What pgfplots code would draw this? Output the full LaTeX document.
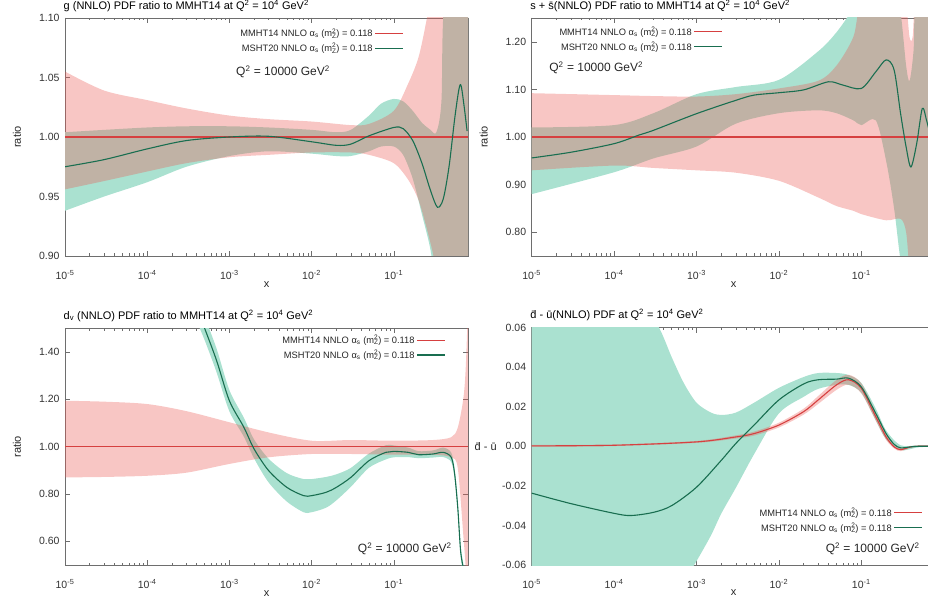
\documentclass[border=0pt]{standalone}
\usepackage{pgfplots}
\pgfplotsset{compat=1.18}
\usepackage{pgfplotstable}
\usepgfplotslibrary{fillbetween}
\usepackage{fontspec}
\setmainfont{Liberation Sans}

\definecolor{bandteal}{RGB}{170,225,208}
\definecolor{bandred}{RGB}{235,92,86}
\definecolor{linered}{RGB}{214,64,64}
\definecolor{lineteal}{RGB}{25,110,80}
\definecolor{axgray}{RGB}{110,110,110}

\newcommand{\lgd}[1]{#1 NNLO α\textsubscript{s} (m\rlap{\textsubscript{Z}}\textsuperscript{2}) = 0.118}
\newcommand{\qq}{Q\textsuperscript{2} = 10000 GeV\textsuperscript{2}}
\newcommand{\qqq}{Q\textsuperscript{2} = 10\textsuperscript{4} GeV\textsuperscript{2}}
\newcommand{\xtl}{10\textsuperscript{-5},10\textsuperscript{-4},10\textsuperscript{-3},10\textsuperscript{-2},10\textsuperscript{-1}}

\pgfplotsset{
  tick align=inside,
  major tick length=5pt, minor tick length=2.5pt,
  axis line style={draw=axgray, line width=0.6pt},
  every tick/.style={draw=axgray, line width=0.5pt},
  tick label style={font=\fontsize{10.5}{12}\selectfont, text=black!80},
  xticklabel style={yshift=-11pt},
  yticklabel style={xshift=-2pt},
  label style={font=\fontsize{11}{13}\selectfont, text=black!85},
  title style={at={(0,1)}, anchor=south west, inner sep=0.5pt, xshift=-2pt, font=\fontsize{11}{13}\selectfont},
  legend style={draw=none, fill=none, font=\fontsize{9.3}{10}\selectfont, inner sep=0pt, row sep=1pt, text=black!85},
  legend cell align=right, legend plot pos=right,
  legend image code/.code={\draw[#1] (0pt,0pt) -- (28pt,0pt);},
  tband/.style={draw=none, fill=bandteal, forget plot},
  rband/.style={draw=none, fill=bandred, fill opacity=0.35, forget plot},
  rline/.style={linered, line width=1.1pt, smooth, forget plot},
  tline/.style={lineteal, line width=1.1pt, smooth, forget plot},
  bedge/.style={draw=none, smooth, forget plot},
}

% ---------- panel 1: gluon ----------
\pgfplotstableread{
x lo hi
1e-5 0.956 1.055
3e-5 0.963 1.039
1e-4 0.971 1.031
3e-4 0.978 1.024
1e-3 0.983 1.018
3e-3 0.985 1.015
1e-2 0.987 1.013
3e-2 0.987 1.010
5e-2 0.985 1.011
0.1 0.978 1.022
0.15 0.964 1.045
0.2 0.947 1.067
0.25 0.924 1.098
0.3 0.902 1.13
0.35 0.88 1.2
0.8 0.85 1.2
}\gR
\pgfplotstableread{
x lo hi
1e-5 0.938 1.004
3e-5 0.950 1.006
1e-4 0.962 1.008
3e-4 0.975 1.009
1e-3 0.984 1.009
3e-3 0.988 1.008
1e-2 0.986 1.006
2e-2 0.984 1.004
3e-2 0.984 1.006
5e-2 0.988 1.018
0.07 0.992 1.028
0.1 0.992 1.032
0.13 0.985 1.030
0.17 0.965 1.022
0.22 0.935 1.012
0.28 0.905 1.006
0.33 0.87 1.004
0.38 0.85 1.03
0.42 0.85 1.12
0.8 0.85 1.2
}\gT
\pgfplotstableread{
x c
1e-5 0.975
3e-5 0.981
1e-4 0.990
3e-4 0.997
1e-3 1.000
3e-3 1.0006
1e-2 0.996
2e-2 0.993
3e-2 0.994
5e-2 1.001
0.1 1.008
0.13 1.007
0.17 0.997
0.22 0.978
0.28 0.955
0.34 0.941
0.40 0.948
0.47 0.975
0.55 1.015
0.62 1.040
0.66 1.043
0.72 1.025
0.78 1.005
}\gG
\pgfplotstableread{
x c
1e-5 1.0
1e-3 1.0
0.8 1.0
}\gL

% ---------- panel 2: s + sbar ----------
\pgfplotstableread{
x lo hi
1e-5 0.930 1.092
1e-4 0.940 1.088
3e-4 0.935 1.086
1e-3 0.930 1.085
3e-3 0.925 1.090
1e-2 0.908 1.102
3e-2 0.873 1.118
5e-2 0.855 1.15
8e-2 0.845 1.21
0.1 0.838 1.28
0.2 0.825 1.30
0.3 0.828 1.30
0.35 0.80 1.28
0.385 0.72 1.21
0.42 0.70 1.21
0.47 0.70 1.30
0.8 0.70 1.30
}\sR
\pgfplotstableread{
x lo hi
1e-5 0.88 1.02
1e-4 0.926 1.025
3e-4 0.955 1.05
1e-3 0.98 1.09
3e-3 1.028 1.105
1e-2 1.05 1.12
3e-2 1.056 1.18
5e-2 1.05 1.22
8e-2 1.035 1.27
0.1 1.025 1.30
0.15 1.035 1.30
0.2 0.95 1.30
0.25 0.85 1.30
0.3 0.74 1.26
0.35 0.70 1.15
0.385 0.70 1.118
0.43 0.70 1.18
0.47 0.70 1.30
0.8 0.70 1.30
}\sT
\pgfplotstableread{
x c
1e-5 0.956
3e-5 0.968
1e-4 0.986
2e-4 1.004
3e-4 1.014
1e-3 1.049
3e-3 1.077
5e-3 1.088
1e-2 1.093
2e-2 1.099
4e-2 1.116
6e-2 1.109
0.1 1.102
0.15 1.137
0.2 1.162
0.25 1.141
0.3 1.049
0.35 0.979
0.4 0.937
0.47 0.986
0.55 1.06
0.62 1.035
0.7 1.00
0.8 0.98
}\sG

% ---------- panel 3: d valence ----------
\pgfplotstableread{
x lo hi
1e-5 0.870 1.194
3e-5 0.872 1.190
1e-4 0.877 1.180
3e-4 0.890 1.150
1e-3 0.927 1.103
3e-3 0.955 1.060
1e-2 0.969 1.025
3e-2 0.969 1.028
0.1 0.966 1.025
0.3 0.966 1.028
0.5 0.955 1.040
0.6 0.910 1.080
0.7 0.630 1.200
0.75 0.490 1.330
0.8 0.300 1.600
}\dR
\pgfplotstableread{
x lo hi
4e-4 1.53 1.65
5e-4 1.45 1.55
7e-4 1.313 1.413
1e-3 1.149 1.239
1.5e-3 1.042 1.122
2e-3 0.950 1.030
3e-3 0.849 0.949
5e-3 0.768 0.888
8e-3 0.723 0.863
1e-2 0.723 0.863
1.5e-2 0.742 0.872
2e-2 0.773 0.883
3e-2 0.830 0.910
5e-2 0.911 0.971
8e-2 0.946 1.006
0.1 0.955 1.005
0.15 0.956 0.996
0.2 0.951 0.981
0.3 0.954 0.984
0.4 0.956 0.996
0.5 0.935 0.975
0.55 0.865 0.905
0.6 0.724 0.764
0.65 0.540 0.580
0.7 0.470 0.510
}\dT
\pgfplotstableread{
x c
4e-4 1.59
5e-4 1.50
7e-4 1.363
1e-3 1.194
1.5e-3 1.082
2e-3 0.990
3e-3 0.899
5e-3 0.828
8e-3 0.793
1e-2 0.793
1.5e-2 0.807
2e-2 0.828
3e-2 0.870
5e-2 0.941
8e-2 0.976
0.1 0.980
0.15 0.976
0.2 0.966
0.3 0.969
0.4 0.976
0.5 0.955
0.55 0.885
0.6 0.744
0.65 0.560
0.7 0.490
}\dG

% ---------- panel 4: dbar - ubar ----------
\pgfplotstableread{
x lo hi
1e-5 -0.0003 0.0007
1e-4 0.0001 0.0009
1e-3 0.0017 0.0027
3e-3 0.0039 0.0055
5e-3 0.0054 0.0074
1e-2 0.0095 0.0119
2e-2 0.0160 0.0190
3e-2 0.0214 0.0254
5e-2 0.0285 0.0335
7e-2 0.0311 0.0361
0.1 0.0268 0.0318
0.15 0.0129 0.0169
0.2 0.0032 0.0062
0.25 -0.0011 0.0005
0.3 -0.0025 -0.0009
0.4 -0.0006 0.0
0.5 -0.0003 0.0003
0.8 -0.0002 0.0002
}\uR
\pgfplotstableread{
x lo hi
1e-5 -0.10 0.10
1e-4 -0.10 0.09
2e-4 -0.09 0.075
3.5e-4 -0.082 0.060
5e-4 -0.075 0.045
7e-4 -0.068 0.032
1e-3 -0.058 0.022
1.5e-3 -0.045 0.017
2e-3 -0.034 0.0158
3e-3 -0.021 0.017
5e-3 -0.004 0.022
1e-2 0.0166 0.0295
2e-2 0.025 0.035
3e-2 0.029 0.037
5e-2 0.031 0.037
7e-2 0.031 0.036
0.1 0.027 0.032
0.15 0.013 0.019
0.2 0.0035 0.008
0.3 -0.002 0.0005
0.5 -0.0005 0.0005
0.8 -0.0003 0.0003
}\uT
\pgfplotstableread{
x c
1e-5 0.0002
1e-4 0.0005
1e-3 0.0022
3e-3 0.0047
5e-3 0.0064
1e-2 0.0107
2e-2 0.0175
3e-2 0.0234
5e-2 0.0310
7e-2 0.0336
0.1 0.0293
0.15 0.0149
0.2 0.0047
0.25 -0.0003
0.3 -0.0017
0.4 -0.0003
0.5 0.0
0.8 0.0
}\uL
\pgfplotstableread{
x c
1e-5 -0.0237
3e-5 -0.0290
1e-4 -0.0339
1.6e-4 -0.0350
3e-4 -0.0334
5e-4 -0.0300
1e-3 -0.0207
2e-3 -0.0071
3e-3 0.0014
5e-3 0.0107
1e-2 0.0234
2e-2 0.0315
3e-2 0.0336
5e-2 0.0339
7e-2 0.0344
0.1 0.0300
0.15 0.0166
0.2 0.0064
0.25 0.0010
0.3 -0.0008
0.4 -0.0003
0.5 0.0
0.8 0.0
}\uG

\begin{document}
\begin{tikzpicture}

% ================= panel 1 =================
\begin{axis}[scale only axis, xmode=log, xmin=1e-5, xmax=0.8,
  xtick={1e-5,1e-4,1e-3,1e-2,1e-1}, xticklabels/.expand once={\xtl},
  yticklabel style={/pgf/number format/fixed, /pgf/number format/fixed zerofill, /pgf/number format/precision=2, /pgf/number format/assume math mode=true},
  at={(65pt,-18pt)}, anchor=north west, width=403pt, height=238pt,
  ymin=0.9, ymax=1.1, ytick={0.9,0.95,1.0,1.05,1.1},
  title={g (NNLO) PDF ratio to MMHT14 at \qqq},
  ylabel={ratio}, xlabel={x},
  ylabel style={at={(axis description cs:-0.119,0.5)}, anchor=center},
  xlabel style={at={(axis description cs:0.5,-0.12)}, anchor=center},
  legend style={at={(axis description cs:0.841,0.965)}, anchor=north east}]
\addlegendimage{linered, line width=0.9pt}
\addlegendimage{lineteal, line width=1.1pt}
\addplot[bedge, name path=tu] table[x=x,y=hi] {\gT};
\addplot[bedge, name path=tl] table[x=x,y=lo] {\gT};
\addplot[tband] fill between[of=tu and tl];
\addplot[bedge, name path=ru] table[x=x,y=hi] {\gR};
\addplot[bedge, name path=rl] table[x=x,y=lo] {\gR};
\addplot[rband] fill between[of=ru and rl];
\addplot[rline] table[x=x,y=c] {\gL};
\addplot[tline] table[x=x,y=c] {\gG};
\legend{\lgd{MMHT14},\lgd{MSHT20}}
\node[font=\fontsize{12}{14}\selectfont, text=black!85] at (axis description cs:0.541,0.773) {\qq};
\end{axis}

% ================= panel 2 =================
\begin{axis}[scale only axis, xmode=log, xmin=1e-5, xmax=0.8,
  xtick={1e-5,1e-4,1e-3,1e-2,1e-1}, xticklabels/.expand once={\xtl},
  yticklabel style={/pgf/number format/fixed, /pgf/number format/fixed zerofill, /pgf/number format/precision=2, /pgf/number format/assume math mode=true},
  at={(531.7pt,-18pt)}, anchor=north west, width=404pt, height=238pt,
  ymin=0.75, ymax=1.25, ytick={0.8,0.9,1.0,1.1,1.2},
  title={s + \=s(NNLO) PDF ratio to MMHT14 at \qqq},
  ylabel={ratio}, xlabel={x},
  ylabel style={at={(axis description cs:-0.119,0.5)}, anchor=center},
  xlabel style={at={(axis description cs:0.5,-0.12)}, anchor=center},
  legend style={at={(axis description cs:0.4735,0.972)}, anchor=north east}]
\addlegendimage{linered, line width=0.9pt}
\addlegendimage{lineteal, line width=1.1pt}
\addplot[bedge, name path=tu] table[x=x,y=hi] {\sT};
\addplot[bedge, name path=tl] table[x=x,y=lo] {\sT};
\addplot[tband] fill between[of=tu and tl];
\addplot[bedge, name path=ru] table[x=x,y=hi] {\sR};
\addplot[bedge, name path=rl] table[x=x,y=lo] {\sR};
\addplot[rband] fill between[of=ru and rl];
\addplot[rline] table[x=x,y=c] {\gL};
\addplot[tline] table[x=x,y=c] {\sG};
\legend{\lgd{MMHT14},\lgd{MSHT20}}
\node[font=\fontsize{12}{14}\selectfont, text=black!85, anchor=west] at (axis description cs:0.035,0.79) {\qq};
\end{axis}

% ================= panel 3 =================
\begin{axis}[scale only axis, xmode=log, xmin=1e-5, xmax=0.8,
  xtick={1e-5,1e-4,1e-3,1e-2,1e-1}, xticklabels/.expand once={\xtl},
  yticklabel style={/pgf/number format/fixed, /pgf/number format/fixed zerofill, /pgf/number format/precision=2, /pgf/number format/assume math mode=true},
  at={(65pt,-328.3pt)}, anchor=north west, width=403pt, height=236.7pt,
  ymin=0.5, ymax=1.5, ytick={0.6,0.8,1.0,1.2,1.4},
  title={d\textsubscript{v} (NNLO) PDF ratio to MMHT14 at \qqq},
  ylabel={ratio}, xlabel={x},
  ylabel style={at={(axis description cs:-0.119,0.5)}, anchor=center},
  xlabel style={at={(axis description cs:0.5,-0.122)}, anchor=center},
  legend style={at={(axis description cs:0.945,0.98)}, anchor=north east}]
\addlegendimage{linered, line width=0.9pt}
\addlegendimage{lineteal, line width=1.1pt}
\addplot[bedge, name path=tu] table[x=x,y=hi] {\dT};
\addplot[bedge, name path=tl] table[x=x,y=lo] {\dT};
\addplot[tband] fill between[of=tu and tl];
\addplot[bedge, name path=ru] table[x=x,y=hi] {\dR};
\addplot[bedge, name path=rl] table[x=x,y=lo] {\dR};
\addplot[rband] fill between[of=ru and rl];
\addplot[rline] table[x=x,y=c] {\gL};
\addplot[tline] table[x=x,y=c] {\dG};
\legend{\lgd{MMHT14},\lgd{MSHT20}}
\node[font=\fontsize{12}{14}\selectfont, text=black!85, anchor=east] at (axis description cs:0.968,0.068) {\qq};
\end{axis}

% ================= panel 4 =================
\begin{axis}[scale only axis, xmode=log, xmin=1e-5, xmax=0.8,
  xtick={1e-5,1e-4,1e-3,1e-2,1e-1}, xticklabels/.expand once={\xtl},
  scaled y ticks=false,
  yticklabel style={/pgf/number format/fixed, /pgf/number format/fixed zerofill, /pgf/number format/precision=2, /pgf/number format/assume math mode=true},
  at={(531.7pt,-327.5pt)}, anchor=north west, width=404pt, height=237.5pt,
  ymin=-0.06, ymax=0.06, ytick={-0.06,-0.04,-0.02,0,0.02,0.04,0.06},
  title={\=d - \=u(NNLO) PDF at \qqq},
  ylabel={\=d - \=u}, xlabel={x},
  ylabel style={rotate=-90, at={(axis description cs:-0.078,0.5)}, anchor=east},
  xlabel style={at={(axis description cs:0.5,-0.118)}, anchor=center},
  legend style={at={(axis description cs:0.9686,0.25)}, anchor=north east}]
\addlegendimage{linered, line width=0.9pt}
\addlegendimage{lineteal, line width=1.1pt}
\addplot[bedge, name path=tu] table[x=x,y=hi] {\uT};
\addplot[bedge, name path=tl] table[x=x,y=lo] {\uT};
\addplot[tband] fill between[of=tu and tl];
\addplot[bedge, name path=ru] table[x=x,y=hi] {\uR};
\addplot[bedge, name path=rl] table[x=x,y=lo] {\uR};
\addplot[rband] fill between[of=ru and rl];
\addplot[rline] table[x=x,y=c] {\uL};
\addplot[tline] table[x=x,y=c] {\uG};
\legend{\lgd{MMHT14},\lgd{MSHT20}}
\node[font=\fontsize{12}{14}\selectfont, text=black!85, anchor=east] at (axis description cs:0.9686,0.067) {\qq};
\end{axis}

\pgfresetboundingbox
\path[use as bounding box] (0pt,0pt) rectangle (928pt,-601pt);
\end{tikzpicture}
\end{document}
